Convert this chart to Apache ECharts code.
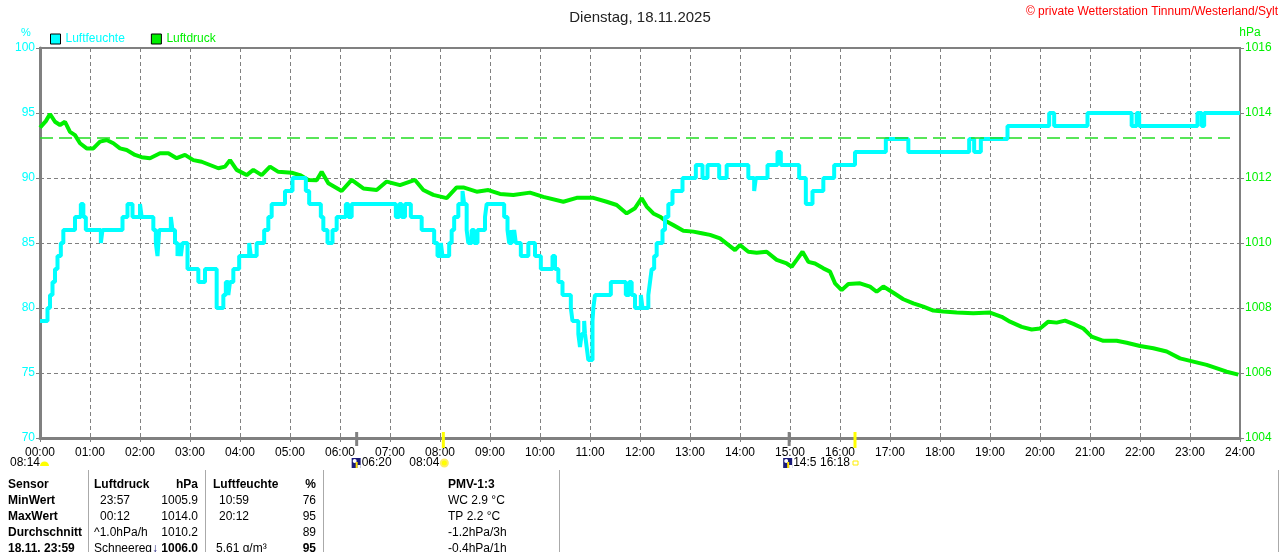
<!DOCTYPE html>
<html>
<head>
<meta charset="utf-8">
<script src="https://cdn.jsdelivr.net/npm/echarts@6/dist/echarts.min.js"></script>
<style>
  html, body { margin: 0; padding: 0; background: #fff; }
  #chart { width: 1280px; height: 552px; }
</style>
</head>
<body>
<div id="chart"></div>
<script>
// Luftfeuchte (%): Zeitpunkt der Aenderung und neuer Wert (Treppenkurve)
var humTimes = ['00:00','00:09','00:12','00:15','00:18','00:21','00:25','00:28','00:42','00:49','00:52','00:55',
  '01:13','01:15','01:39','01:45','01:51','02:00','02:02','02:16','02:19','02:21','02:23','02:37','02:39','02:42',
  '02:45','02:47','02:49','02:51','02:57','03:10','03:18','03:32','03:40','03:43','03:46','03:48','03:52','03:59',
  '04:11','04:13','04:20','04:29','04:34','04:38','04:54','05:03','05:19','05:23','05:37','05:40','05:45','05:51',
  '05:56','06:07','06:10','06:14','07:07','07:11','07:14','07:18','07:25','07:38','07:53','07:57','08:01','08:03',
  '08:11','08:14','08:17','08:22','08:27','08:29','08:32','08:34','08:38','08:41','08:45','08:54','08:56','09:17',
  '09:21','09:23','09:26','09:28','09:29','09:31','09:37','09:46','09:54','10:01','10:15','10:18','10:22','10:27',
  '10:37','10:39','10:46','10:48','10:50','10:53','10:54','10:56','10:58','11:03','11:04','11:06','11:25','11:43',
  '11:47','11:50','11:54','12:01','12:03','12:10','12:12','12:14','12:17','12:20','12:27','12:30','12:34','12:39',
  '12:51','13:07','13:15','13:21','13:35','13:44','14:10','14:17','14:19','14:33','14:45','14:49','15:11','15:19',
  '15:27','15:40','15:53','16:18','16:55','17:22','18:35','18:41','18:49','19:21','20:11','20:17','20:57','21:50',
  '21:56','21:59','23:09','23:14','23:17','24:00'];
var humValues = [79,80,81,82,83,84,85,86,87,88,87,86,
  85,86,87,88,87,88,87,86,85,84,86,87,86,85,
  84,85,84,85,83,82,83,80,81,82,81,82,83,84,
  85,84,85,86,87,88,89,90,89,88,87,86,85,86,
  87,88,87,88,87,88,87,88,87,86,85,84,85,84,
  85,86,87,88,89,88,86,85,86,85,86,87,88,87,
  86,85,86,85,86,85,84,85,84,83,84,83,82,81,
  80,79,78,77,78,79,78,77,76,79,80,81,82,81,
  82,81,80,81,80,81,82,83,84,85,86,87,88,89,
  90,91,90,91,90,91,90,89,90,91,92,91,90,88,
  89,90,91,92,93,92,93,92,93,94,95,94,95,94,
  95,94,95,94,95,95];

// Luftdruck (hPa): Minuten seit Mitternacht und Wert
var pressMinutes = [0,2,7,12,18,24,30,36,42,48,56,64,72,80,88,96,104,114,122,132,144,154,164,174,184,194,204,214,
  222,228,236,248,256,266,276,286,302,312,322,332,338,346,362,374,388,404,416,432,450,460,472,488,500,508,524,538,
  552,568,588,604,628,644,664,680,692,704,714,722,728,736,744,752,760,772,784,794,804,816,826,834,840,850,860,872,
  884,896,902,908,915,922,930,940,948,954,962,970,984,996,1004,1012,1024,1036,1048,1060,1072,1084,1100,1120,1140,
  1154,1164,1178,1190,1200,1210,1220,1230,1240,1252,1262,1276,1292,1304,1320,1336,1352,1368,1384,1400,1416,1424,1438];
var pressValues = [1013.55,1013.58,1013.75,1013.97,1013.73,1013.63,1013.73,1013.42,1013.32,1013.07,1012.91,1012.91,
  1013.12,1013.17,1013.07,1012.91,1012.86,1012.71,1012.64,1012.61,1012.76,1012.76,1012.61,1012.71,1012.55,1012.50,
  1012.40,1012.30,1012.35,1012.55,1012.25,1012.09,1012.25,1012.09,1012.35,1012.19,1012.16,1012.09,1011.94,1011.93,
  1012.19,1011.84,1011.60,1011.94,1011.68,1011.63,1011.89,1011.78,1011.94,1011.63,1011.48,1011.38,1011.71,1011.71,
  1011.58,1011.63,1011.51,1011.48,1011.55,1011.42,1011.27,1011.39,1011.39,1011.27,1011.17,1010.91,1011.07,1011.38,
  1011.12,1010.91,1010.81,1010.66,1010.55,1010.38,1010.35,1010.30,1010.25,1010.14,1009.94,1009.78,1009.94,1009.73,
  1009.70,1009.73,1009.48,1009.37,1009.27,1009.48,1009.73,1009.42,1009.37,1009.22,1009.12,1008.76,1008.55,1008.74,
  1008.76,1008.66,1008.50,1008.66,1008.47,1008.27,1008.14,1008.04,1007.92,1007.89,1007.86,1007.84,1007.86,1007.73,
  1007.58,1007.42,1007.34,1007.37,1007.58,1007.55,1007.61,1007.51,1007.37,1007.12,1006.99,1006.99,1006.93,1006.83,
  1006.76,1006.66,1006.45,1006.35,1006.25,1006.11,1006.04,1005.95];

var normPressure = 1013.25;
var normLineEnd = 1428;

// Achsen
var humTicks = [70, 75, 80, 85, 90, 95, 100];
var pressTicks = [1004, 1006, 1008, 1010, 1012, 1014, 1016];

// Sonne / Mond Ereignisse
var eventTimes = ['06:20', '08:04', '14:59', '16:18'];
var eventKinds = ['moon', 'sun', 'moon', 'sun'];
var eventLabels = ['06:20', '08:04', '14:5', '16:18'];

// Tabelle unten
var tableHeader = ['Sensor', 'Luftdruck', 'hPa', 'Luftfeuchte', '%', 'PMV-1:3'];
var rowLabels = ['MinWert', 'MaxWert', 'Durchschnitt', '18.11. 23:59'];
var pressInfo = ['23:57', '00:12', '^1.0hPa/h', 'Schneeregen'];
var pressCol = ['1005.9', '1014.0', '1010.2', '1006.0'];
var humInfo = ['10:59', '20:12', '', '5.61 g/m\u00b3'];
var humCol = ['76', '95', '89', '95'];
var pmvCol = ['WC 2.9 \u00b0C', 'TP 2.2 \u00b0C', '-1.2hPa/3h', '-0.4hPa/1h'];

function toMin(s) {
  var p = s.split(':');
  return parseInt(p[0], 10) * 60 + parseInt(p[1], 10);
}
function pad(n) { return (n < 10 ? '0' : '') + n; }

var CYAN = '#00ffff', GREEN = '#00f000', GRAY = '#808080';
var FONT = '"Liberation Sans", Arial, sans-serif';

var humData = humTimes.map(function (t, i) { return [toMin(t), humValues[i]]; });
var pressData = pressMinutes.map(function (m, i) { return [m, pressValues[i]]; });

var vm = echarts.init(document.getElementById('chart'));

var option = {
  animation: false,
  textStyle: { fontFamily: FONT },
  title: {
    text: 'Dienstag, 18.11.2025',
    left: 'center',
    top: 5,
    textStyle: { fontSize: 15, fontWeight: 'normal', color: '#222', fontFamily: FONT }
  },
  legend: {
    left: 45,
    top: 28,
    icon: 'rect',
    itemWidth: 10,
    itemHeight: 10,
    itemGap: 26,
    selectedMode: false,
    textStyle: { fontSize: 12, fontFamily: FONT },
    data: [
      { name: 'Luftfeuchte', textStyle: { color: CYAN }, itemStyle: { color: CYAN, borderColor: '#000', borderWidth: 1 } },
      { name: 'Luftdruck', textStyle: { color: GREEN }, itemStyle: { color: GREEN, borderColor: '#000', borderWidth: 1 } }
    ]
  },
  grid: {
    left: 40, right: 40, top: 48, bottom: 114,
    show: true, borderColor: GRAY, borderWidth: 2, backgroundColor: 'transparent'
  },
  xAxis: {
    type: 'value',
    min: 0, max: 1440, interval: 60,
    axisLine: { lineStyle: { color: GRAY, width: 3 } },
    axisTick: { show: true, length: 4, lineStyle: { color: GRAY } },
    axisLabel: {
      color: '#000', fontSize: 12, margin: 9,
      formatter: function (v) { return pad(Math.round(v / 60)) + ':00'; }
    },
    splitLine: { show: true, lineStyle: { color: GRAY, type: [4, 3], width: 1 } }
  },
  yAxis: [
    {
      type: 'value',
      min: humTicks[0], max: humTicks[humTicks.length - 1], interval: 5,
      axisLine: { show: true, lineStyle: { color: GRAY, width: 3 } },
      axisTick: { show: true, length: 4, lineStyle: { color: GRAY } },
      axisLabel: { color: CYAN, fontSize: 12, margin: 5 },
      splitLine: { show: true, lineStyle: { color: GRAY, type: [4, 3], width: 1 } }
    },
    {
      type: 'value',
      min: pressTicks[0], max: pressTicks[pressTicks.length - 1], interval: 2,
      position: 'right',
      axisLine: { show: true, lineStyle: { color: GRAY, width: 2 } },
      axisTick: { show: true, length: 4, lineStyle: { color: GRAY } },
      axisLabel: { color: GREEN, fontSize: 12, margin: 5, formatter: function (v) { return String(v); } },
      splitLine: { show: false }
    }
  ],
  series: [
    {
      name: 'Luftdruck',
      type: 'line',
      yAxisIndex: 1,
      data: pressData,
      showSymbol: false,
      color: GREEN,
      itemStyle: { color: GREEN },
      lineStyle: { color: GREEN, width: 4 },
      z: 3,
      markLine: {
        silent: true,
        symbol: 'none',
        label: { show: false },
        lineStyle: { color: '#22dd22', width: 1.5, type: [13, 6], opacity: 1 },
        data: [[{ coord: [0, normPressure] }, { coord: [normLineEnd, normPressure] }]]
      }
    },
    {
      name: 'Luftfeuchte',
      type: 'line',
      yAxisIndex: 0,
      data: humData,
      step: 'end',
      showSymbol: false,
      color: CYAN,
      itemStyle: { color: CYAN },
      lineStyle: { color: CYAN, width: 4 },
      z: 4
    }
  ]
};
vm.setOption(option);

// Zusatzgrafik: Einheiten, Copyright, Ereignisse, Tabelle
var g = [];
function txt(x, y, s, o) {
  o = o || {};
  var st = {
    text: s, x: x, y: y,
    fill: o.color || '#000',
    font: (o.bold ? 'bold ' : '') + (o.size || 12) + 'px ' + FONT,
    align: o.align || 'left',
    verticalAlign: 'middle'
  };
  if (o.width) { st.width = o.width; st.overflow = 'truncate'; st.ellipsis = ''; }
  g.push({ type: 'text', silent: true, z: 50, style: st });
}

txt(1278, 12, '\u00a9 private Wetterstation Tinnum/Westerland/Sylt', { color: '#ff0000', align: 'right', size: 12 });
txt(26, 33, '%', { color: CYAN, align: 'center', size: 11 });
txt(1250, 33, 'hPa', { color: GREEN, align: 'center', size: 12 });

// Ereignis-Markierungen an der Zeitachse
var axisY = vm.convertToPixel({ yAxisIndex: 0 }, humTicks[0]);
eventTimes.forEach(function (t, i) {
  var x = vm.convertToPixel({ xAxisIndex: 0 }, toMin(t));
  var isSun = eventKinds[i] === 'sun';
  g.push({
    type: 'line', silent: true, z: 40,
    shape: { x1: x, y1: axisY - 6, x2: x, y2: axisY + (isSun ? 10 : 8) },
    style: { stroke: isSun ? '#ffff00' : GRAY, lineWidth: 3 }
  });
  var ly = axisY + 25;
  if (!isSun) {
    var ix = i === 0 ? x - 5 : x - 6;
    g.push({ type: 'rect', silent: true, z: 40, shape: { x: ix, y: ly - 5, width: 9, height: 10 }, style: { fill: '#1a1a7a' } });
    g.push({ type: 'circle', silent: true, z: 41, shape: { cx: ix + 3, cy: ly - 2, r: 2 }, style: { fill: '#ffffff' } });
    g.push({ type: 'rect', silent: true, z: 41, shape: { x: ix + 4, y: ly - 1, width: 2, height: 6 }, style: { fill: '#ffe000' } });
    g.push({ type: 'rect', silent: true, z: 41, shape: { x: ix + 6, y: ly + 2, width: 3, height: 3 }, style: { fill: '#ffffff' } });
    txt(ix + 10, ly, eventLabels[i], { size: 12 });
  } else if (i === 1) {
    g.push({ type: 'circle', silent: true, z: 40, shape: { cx: x + 1, cy: ly, r: 3.5 }, style: { fill: '#ffff00', stroke: '#ffee66', lineWidth: 2 } });
    txt(x - 4, ly, eventLabels[i], { size: 12, align: 'right' });
  } else {
    g.push({ type: 'rect', silent: true, z: 40, shape: { x: x - 2, y: ly - 2, width: 5, height: 4 }, style: { fill: '#fff', stroke: '#ffee00', lineWidth: 1 } });
    txt(x - 5, ly, eventLabels[i], { size: 12, align: 'right' });
  }
});
// Tageslaenge links
txt(10, axisY + 25, '08:14', { size: 12 });
g.push({ type: 'sector', silent: true, z: 40, shape: { cx: 44.5, cy: axisY + 28, r: 4.5, startAngle: Math.PI, endAngle: 2 * Math.PI }, style: { fill: '#ffff00' } });

// Tabelle
[88.5, 205.5, 323.5, 559.5, 1278.5].forEach(function (x) {
  g.push({ type: 'line', silent: true, z: 40, shape: { x1: x, y1: 470, x2: x, y2: 552 }, style: { stroke: '#aaa', lineWidth: 1 } });
});
var rowY0 = 485, rowH = 16;
txt(8, rowY0, tableHeader[0], { bold: true });
txt(94, rowY0, tableHeader[1], { bold: true });
txt(198, rowY0, tableHeader[2], { bold: true, align: 'right' });
txt(213, rowY0, tableHeader[3], { bold: true });
txt(316, rowY0, tableHeader[4], { bold: true, align: 'right' });
txt(448, rowY0, tableHeader[5], { bold: true });
rowLabels.forEach(function (lab, i) {
  var y = rowY0 + rowH * (i + 1);
  var last = i === rowLabels.length - 1;
  txt(8, y, lab, { bold: true });
  if (last) {
    txt(94, y, pressInfo[i], { width: 63 });
    txt(155, y, '\u2193', { bold: true, color: '#1a1a7a', align: 'center' });
  } else {
    txt(i < 2 ? 100 : 94, y, pressInfo[i]);
  }
  txt(198, y, pressCol[i], { align: 'right', bold: last });
  txt(last ? 216 : 219, y, humInfo[i]);
  txt(316, y, humCol[i], { align: 'right', bold: last });
  txt(448, y, pmvCol[i]);
});

vm.setOption({ graphic: g });
</script>
</body>
</html>
